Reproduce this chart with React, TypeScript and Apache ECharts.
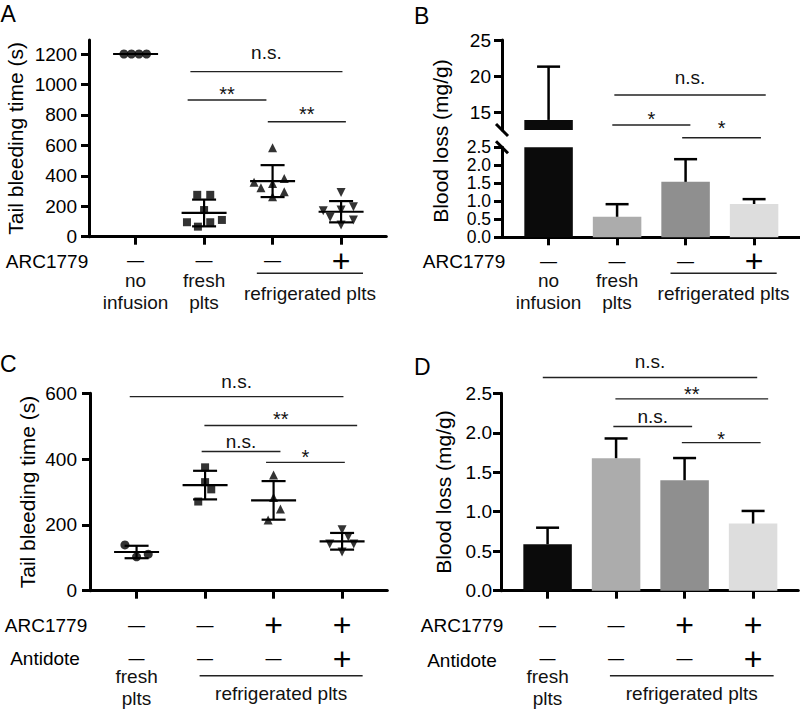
import React, { useEffect, useRef } from 'react';
import * as echarts from 'echarts';

const FONT = '"Liberation Sans", Arial, Helvetica, sans-serif';
const X_RANGE = [0.32, 4.66];
const CATS = [1, 2, 3, 4];

// ---------- Panel A: tail bleeding time (s), individual mice ----------
const aNoInfusion = [1200, 1200, 1200, 1200];
const aNoInfusionJitter = [-0.17, -0.06, 0.05, 0.16];
const aFresh = [275, 275, 175, 95, 66, 95, 110];
const aFreshJitter = [-0.1, 0.09, 0, -0.25, -0.09, 0.09, 0.26];
const aCold = [585, 357, 322, 350, 383, 296, 263];
const aColdJitter = [0, -0.27, -0.17, 0, 0.17, 0.17, 0];
const aColdArc = [291, 171, 127, 175, 197, 110, 77];
const aColdArcJitter = [0, -0.26, -0.16, 0, 0.18, 0.18, 0];
const aYTicks = [0, 200, 400, 600, 800, 1000, 1200];
const aArc = ['—', '—', '—', '+'];
// [x1, x2, line value, text value, label]
const aSig: any[] = [
  [1.8, 4.02, 1084, 1198, 'n.s.'],
  [1.76, 2.91, 898, 970, '**'],
  [2.93, 4.07, 755, 837, '**'],
];
const aGroups: any[] = [
  { x1: 1, x2: 1, text: 'no\ninfusion' },
  { x1: 2, x2: 2, text: 'fresh\nplts' },
  { x1: 2.77, x2: 4.32, text: 'refrigerated plts', bracket: true },
];

// ---------- Panel B: blood loss (mg/g), mean + SD, broken axis ----------
const bMeans = [13.9, 0.57, 1.54, 0.925];
const bErr = [7.4, 0.35, 0.63, 0.135];
const bTopTicks = [15, 20, 25];
const bArc = ['—', '—', '—', '+'];
const bSig: any[] = [
  [1.96, 4.17, 17.36, 19.54, 'n.s.'],
  [1.93, 3.07, 13.19, 14.68, '*'],
  [2.95, 4.1, 11.43, 13.43, '*'],
];
const bGroups: any[] = [
  { x1: 1, x2: 1, text: 'no\ninfusion' },
  { x1: 2, x2: 2, text: 'fresh\nplts' },
  { x1: 2.78, x2: 4.33, text: 'refrigerated plts', bracket: true },
];

// ---------- Panel C: tail bleeding time (s) with antidote ----------
const cFresh = [139, 103, 111];
const cFreshJitter = [-0.17, 0, 0.17];
const cCold = [375, 330, 308, 271];
const cColdJitter = [0, 0, 0.09, -0.1];
const cColdArc = [352, 283, 248, 215];
const cColdArcJitter = [0, 0, 0.1, -0.08];
const cColdArcAnti = [185, 142, 164, 142, 118];
const cColdArcAntiJitter = [0, -0.18, 0.09, 0.17, 0];
const cArc = ['—', '—', '+', '+'];
const cAnti = ['—', '—', '—', '+'];
const cSig: any[] = [
  [0.9, 4.02, 590, 630, 'n.s.'],
  [1.99, 4.22, 502, 536, '**'],
  [1.95, 3.1, 423, 448, 'n.s.'],
  [2.89, 4.04, 390, 421, '*'],
];
const cGroups: any[] = [
  { x1: 1, x2: 1, text: 'fresh\nplts' },
  { x1: 1.92, x2: 4.3, text: 'refrigerated plts', bracket: true },
];

// ---------- Panel D: blood loss (mg/g) with antidote ----------
const dMeans = [0.588, 1.678, 1.4, 0.85];
const dErr = [0.21, 0.25, 0.28, 0.16];
const dArc = ['—', '—', '+', '+'];
const dAnti = ['—', '—', '—', '+'];
const dSig: any[] = [
  [0.93, 4.06, 2.7, 2.88, 'n.s.'],
  [1.99, 4.22, 2.43, 2.55, '**'],
  [1.96, 3.11, 2.08, 2.19, 'n.s.'],
  [2.96, 4.11, 1.875, 1.98, '*'],
];
const dGroups: any[] = [
  { x1: 1, x2: 1, text: 'fresh\nplts' },
  { x1: 1.91, x2: 4.3, text: 'refrigerated plts', bracket: true },
];

const BAR_COLORS = ['#0b0b0b', '#acacac', '#8f8f8f', '#dddddd'];

const meanSd = (vals: number[]) => {
  const m = vals.reduce((a, b) => a + b, 0) / vals.length;
  const sd = vals.length > 1 ? Math.sqrt(vals.reduce((a, b) => a + (b - m) ** 2, 0) / (vals.length - 1)) : 0;
  return [m, sd];
};

const pts = (x: number, vals: number[], jit: number[]) => vals.map((v, i) => [x + jit[i], v]);

const scatter = (axis: number, data: number[][], symbol: string, size: number, rotate = 0) => ({
  type: 'scatter', xAxisIndex: axis, yAxisIndex: axis, data, symbol, symbolSize: size, symbolRotate: rotate,
  itemStyle: { color: '#000' }, z: 2,
});

const meanSdSeries = (axis: number, groups: number[][]) => ({
  type: 'custom', xAxisIndex: axis, yAxisIndex: axis, z: 3,
  data: groups.map((g, i) => [i + 1, ...meanSd(g)]),
  encode: { x: 0, y: 1 },
  renderItem: (params: any, api: any) => {
    const x = api.value(0), m = api.value(1), s = api.value(2);
    const c = api.coord([x, m]);
    const st = { stroke: '#000', lineWidth: 2.2 };
    const ch: any[] = [{ type: 'line', shape: { x1: c[0] - 22.5, y1: c[1], x2: c[0] + 22.5, y2: c[1] }, style: st }];
    if (s > 0) {
      const hi = api.coord([x, m + s]);
      const lo = api.coord([x, m - s]);
      ch.push({ type: 'line', shape: { x1: c[0], y1: hi[1], x2: c[0], y2: lo[1] }, style: st });
      ch.push({ type: 'line', shape: { x1: c[0] - 12, y1: hi[1], x2: c[0] + 12, y2: hi[1] }, style: st });
      ch.push({ type: 'line', shape: { x1: c[0] - 12, y1: lo[1], x2: c[0] + 12, y2: lo[1] }, style: st });
    }
    return { type: 'group', children: ch };
  },
});

const barSeries = (axis: number, means: number[], errs: number[]) => ({
  type: 'custom', xAxisIndex: axis, yAxisIndex: axis, z: 2,
  data: means.map((m, i) => [i + 1, m, errs[i]]),
  encode: { x: 0, y: 1 },
  renderItem: (params: any, api: any) => {
    const cs = params.coordSys;
    const x = api.value(0), v = api.value(1), e = api.value(2);
    const top = api.coord([x, v]);
    const base = api.coord([x, 0]);
    const yTop = Math.max(top[1], cs.y);
    const yBot = Math.min(base[1], cs.y + cs.height);
    const ch: any[] = [];
    if (yBot - yTop > 0) {
      ch.push({ type: 'rect', shape: { x: top[0] - 24.25, y: yTop, width: 48.5, height: yBot - yTop }, style: { fill: BAR_COLORS[params.dataIndex] } });
    }
    if (top[1] >= cs.y - 0.5 && top[1] <= cs.y + cs.height + 0.5 && e > 0) {
      const hi = api.coord([x, v + e]);
      const st = { stroke: '#000', lineWidth: 2.5 };
      ch.push({ type: 'line', shape: { x1: top[0], y1: top[1], x2: top[0], y2: hi[1] }, style: st });
      ch.push({ type: 'line', shape: { x1: top[0] - 11.5, y1: hi[1], x2: top[0] + 11.5, y2: hi[1] }, style: st });
    }
    return { type: 'group', children: ch };
  },
});

const sigSeries = (axis: number, rows: any[]) => ({
  type: 'custom', xAxisIndex: axis, yAxisIndex: axis, z: 4,
  data: rows.map((r) => [r[0], r[2]]),
  encode: { x: 0, y: 1 },
  renderItem: (params: any, api: any) => {
    const r = rows[params.dataIndex];
    const p1 = api.coord([r[0], r[2]]);
    const p2 = api.coord([r[1], r[2]]);
    const t = api.coord([(r[0] + r[1]) / 2, r[3]]);
    const star = String(r[4]).includes('*');
    return {
      type: 'group',
      children: [
        { type: 'line', shape: { x1: p1[0], y1: p1[1], x2: p2[0], y2: p2[1] }, style: { stroke: '#222', lineWidth: 1.4 } },
        {
          type: 'text', x: t[0], y: t[1] + (star ? 5 : -1.5),
          style: { text: r[4], fill: '#111', fontSize: star ? 20 : 19, fontFamily: FONT, align: 'center', verticalAlign: 'middle' },
        },
      ],
    };
  },
});

const groupSeries = (axis: number, items: any[], dyName: number, dyLine: number, dyText: number, lh: number) => ({
  type: 'custom', xAxisIndex: axis, yAxisIndex: axis, z: 4,
  data: items.map((it) => [it.x1, 0]),
  encode: { x: 0, y: 1 },
  renderItem: (params: any, api: any) => {
    const it = items[params.dataIndex];
    const a = api.coord([it.x1, 0]);
    const b = api.coord([it.x2, 0]);
    const cx = (a[0] + b[0]) / 2;
    const ch: any[] = [];
    if (it.bracket) {
      ch.push({ type: 'line', shape: { x1: a[0], y1: a[1] + dyLine, x2: b[0], y2: a[1] + dyLine }, style: { stroke: '#222', lineWidth: 1.4 } });
    }
    ch.push({
      type: 'text', x: cx, y: a[1] + (it.bracket ? dyText : dyName),
      style: { text: it.text, fill: '#111', fontSize: 19, fontFamily: FONT, align: 'center', verticalAlign: 'middle', lineHeight: lh },
    });
    return { type: 'group', children: ch };
  },
});

const breakSeries = (axis: number, yVal: number) => ({
  type: 'custom', xAxisIndex: axis, yAxisIndex: axis, z: 5,
  data: [[X_RANGE[0], yVal]],
  encode: { x: 0, y: 1 },
  renderItem: (params: any, api: any) => {
    const p = api.coord([api.value(0), api.value(1)]);
    return { type: 'line', shape: { x1: p[0] - 6, y1: p[1] - 6, x2: p[0] + 6, y2: p[1] + 6 }, style: { stroke: '#000', lineWidth: 3 } };
  },
});

// row line heights: [first row, second row]
const rich = (lh1: number, lh2: number) => ({
  m: { fontSize: 17, fontFamily: FONT, color: '#000', lineHeight: lh1 },
  p: { fontSize: 32, fontFamily: FONT, color: '#000', lineHeight: lh1 },
  m2: { fontSize: 16, fontFamily: FONT, color: '#000', lineHeight: lh2 },
  p2: { fontSize: 32, fontFamily: FONT, color: '#000', lineHeight: lh2 },
});

const xAxisFor = (gridIndex: number, rows: string[][], margin: number, lh1: number, lh2: number, show = true) => ({
  type: 'value', gridIndex, min: X_RANGE[0], max: X_RANGE[1], show,
  axisLine: { show: true, onZero: false, lineStyle: { color: '#000', width: 3 } },
  axisTick: { show: true, customValues: CATS, length: 8, lineStyle: { color: '#000', width: 3 } },
  axisLabel: {
    show: rows.length > 0, customValues: CATS, margin,
    formatter: (v: number) => {
      const i = Math.round(v) - 1;
      return rows.map((r, k) => `{${r[i] === '+' ? 'p' : 'm'}${k ? '2' : ''}|${r[i]}}`).join('\n');
    },
    rich: rich(lh1, lh2),
  },
  splitLine: { show: false },
});

const yBase = (gridIndex: number, margin: number, fontSize = 19) => ({
  type: 'value', gridIndex,
  axisLine: { show: true, lineStyle: { color: '#000', width: 3 } },
  axisTick: { show: true, length: 8, lineStyle: { color: '#000', width: 3 } },
  axisLabel: { color: '#000', fontSize, fontFamily: FONT, margin, showMinLabel: true, showMaxLabel: true, lineHeight: fontSize - 1 },
  splitLine: { show: false },
  nameTextStyle: { color: '#000', fontSize: 21, fontFamily: FONT },
});

export default function App() {
  const ref = useRef<HTMLDivElement>(null);
  useEffect(() => {
    if (!ref.current) return;
    const chart = echarts.init(ref.current, undefined, { renderer: 'svg' });
    const txt = (text: string, x: number, y: number, size: number, extra: any = {}) => ({
      type: 'text', x, y, ...extra,
      style: { text, fill: '#000', fontSize: size, fontFamily: FONT, align: 'center', verticalAlign: 'middle', ...(extra.style || {}) },
    });
    const yA = yBase(0, 12);
    const yBt = yBase(1, 11);
    const yBb = yBase(2, 11, 17.5);
    const option: any = {
      animation: false,
      backgroundColor: '#fff',
      grid: [
        { left: 89, top: 40, width: 297.3, height: 196.7, outerBoundsMode: 'none' },
        { left: 502, top: 40, width: 297.3, height: 90, outerBoundsMode: 'none' },
        { left: 502, top: 147.3, width: 297.3, height: 90, outerBoundsMode: 'none' },
        { left: 90, top: 393.3, width: 297.3, height: 197.4, outerBoundsMode: 'none' },
        { left: 501, top: 393.3, width: 297.3, height: 197.4, outerBoundsMode: 'none' },
      ],
      xAxis: [
        xAxisFor(0, [aArc], 14, 20, 20),
        xAxisFor(1, [], 14, 20, 20, false),
        xAxisFor(2, [bArc], 14, 20, 20),
        xAxisFor(3, [cArc, cAnti], 6.3, 56, 11),
        xAxisFor(4, [dArc, dAnti], 6.3, 56, 11),
      ],
      yAxis: [
        {
          ...yA, min: 0, max: 1292,
          axisTick: { ...yA.axisTick, customValues: aYTicks },
          axisLabel: { ...yA.axisLabel, customValues: aYTicks, formatter: (v: number) => String(v) },
          name: 'Tail bleeding time (s)', nameLocation: 'middle', nameGap: 63,
        },
        {
          ...yBt, min: 12.5, max: 25,
          axisTick: { ...yBt.axisTick, customValues: bTopTicks },
          axisLabel: { ...yBt.axisLabel, customValues: bTopTicks, formatter: (v: number) => String(v) },
        },
        {
          ...yBb, min: 0, max: 2.5, interval: 0.5,
          axisLabel: { ...yBb.axisLabel, formatter: (v: number) => v.toFixed(1) },
        },
        {
          ...yBase(3, 13), min: 0, max: 600, interval: 200,
          name: 'Tail bleeding time (s)', nameLocation: 'middle', nameGap: 52.5,
        },
        {
          ...yBase(4, 9), min: 0, max: 2.5, interval: 0.5,
          axisLabel: { ...yBase(4, 9).axisLabel, formatter: (v: number) => v.toFixed(1) },
          name: 'Blood loss (mg/g)', nameLocation: 'middle', nameGap: 47.5,
        },
      ],
      series: [
        // A
        scatter(0, pts(1, aNoInfusion, aNoInfusionJitter), 'circle', 9),
        scatter(0, pts(2, aFresh, aFreshJitter), 'rect', 8),
        scatter(0, pts(3, aCold, aColdJitter), 'triangle', 9),
        scatter(0, pts(4, aColdArc, aColdArcJitter), 'triangle', 9, 180),
        meanSdSeries(0, [aNoInfusion, aFresh, aCold, aColdArc]),
        sigSeries(0, aSig),
        groupSeries(0, aGroups, 54.8, 36.6, 56.6, 21.5),
        // B
        barSeries(1, bMeans, bErr),
        barSeries(2, bMeans, bErr),
        breakSeries(1, 12.5),
        breakSeries(2, 2.5),
        sigSeries(1, bSig),
        groupSeries(2, bGroups, 54, 36, 56, 21.5),
        // C
        scatter(3, pts(1, cFresh, cFreshJitter), 'circle', 9),
        scatter(3, pts(2, cCold, cColdJitter), 'rect', 8),
        scatter(3, pts(3, cColdArc, cColdArcJitter), 'triangle', 9),
        scatter(3, pts(4, cColdArcAnti, cColdArcAntiJitter), 'triangle', 9, 180),
        meanSdSeries(3, [cFresh, cCold, cColdArc, cColdArcAnti]),
        sigSeries(3, cSig),
        groupSeries(3, cGroups, 96.5, 85, 102.6, 21.7),
        // D
        barSeries(4, dMeans, dErr),
        sigSeries(4, dSig),
        groupSeries(4, dGroups, 96.5, 85, 102.6, 21.7),
      ],
      graphic: [
        txt('A', 0.5, 13.5, 23, { style: { align: 'left' } }),
        txt('B', 414, 16, 23, { style: { align: 'left' } }),
        txt('C', 0, 363.5, 23, { style: { align: 'left' } }),
        txt('D', 414, 366.5, 23, { style: { align: 'left' } }),
        txt('ARC1779', 47, 261, 19),
        txt('ARC1779', 464, 261, 19),
        txt('ARC1779', 46, 625, 19),
        txt('Antidote', 45, 658.5, 19),
        txt('ARC1779', 462, 625, 19),
        txt('Antidote', 462, 660, 19),
        txt('Blood loss (mg/g)', 440, 141, 21, { rotation: Math.PI / 2 }),
      ],
    };
    chart.setOption(option);
    return () => chart.dispose();
  }, []);
  return (
    <div
      ref={ref}
      style={{ position: 'fixed', left: 0, top: 0, width: 800, height: 709, background: '#fff' }}
    />
  );
}
